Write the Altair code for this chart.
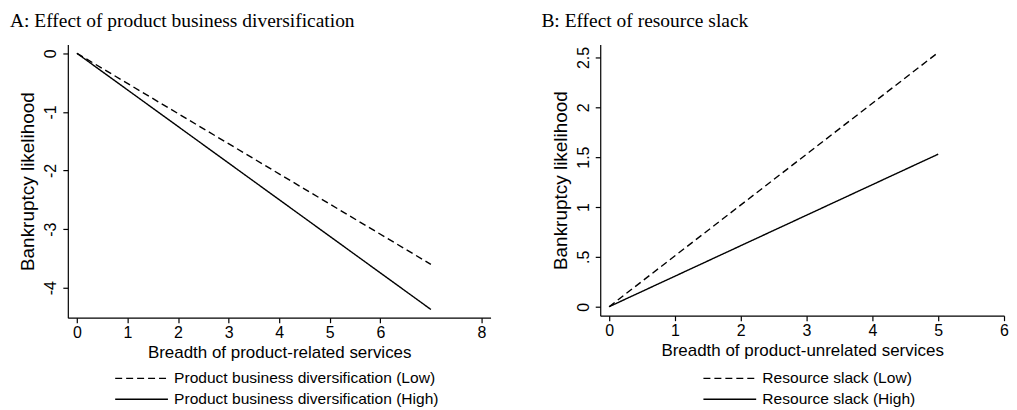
import altair as alt
import pandas as pd

# Panel A data
a_x = [0, 7]
a_low = [0, -3.6]
a_high = [0, -4.37]
a_labels = ["Product business diversification (Low)", "Product business diversification (High)"]

# Panel B data
b_x = [0, 5]
b_low = [0, 2.55]
b_high = [0, 1.53]
b_labels = ["Resource slack (Low)", "Resource slack (High)"]

a_ticks_x = [0, 1, 2, 3, 4, 5, 6, 8]
a_ticks_y = [0, -1, -2, -3, -4]
b_ticks_x = [0, 1, 2, 3, 4, 5, 6]
b_ticks_y = [0, 0.5, 1, 1.5, 2, 2.5]

SANS = "Liberation Sans"
SERIF = "Liberation Serif"


def make_df(xs, low, high, labels):
    rows = []
    for x, v in zip(xs, low):
        rows.append({"x": x, "y": v, "series": labels[0]})
    for x, v in zip(xs, high):
        rows.append({"x": x, "y": v, "series": labels[1]})
    return pd.DataFrame(rows)


def panel(df, labels, title, xtitle, xdom, ydom, xticks, yticks, w, h, lx, ly, dx):
    axis_common = dict(
        grid=False, domainColor="black", tickColor="black", tickSize=5,
        labelFont=SANS, labelFontSize=16, labelColor="black",
        titleFont=SANS, titleFontWeight="normal", titleColor="black",
        domainWidth=1.2, tickWidth=1.2,
    )
    return alt.Chart(df).mark_line(color="black", strokeWidth=1.4, clip=True).encode(
        x=alt.X("x:Q", title=xtitle,
                scale=alt.Scale(domain=xdom, nice=False, zero=False),
                axis=alt.Axis(values=xticks, labelExpr="datum.value + ''",
                              labelPadding=2, titlePadding=4, titleFontSize=17,
                              labelFlush=False, **axis_common)),
        y=alt.Y("y:Q", title="Bankruptcy likelihood",
                scale=alt.Scale(domain=ydom, nice=False, zero=False),
                axis=alt.Axis(values=yticks, labelAngle=-90,
                              labelExpr="replace(datum.value + '', '0.5', '.5')",
                              labelPadding=4, titlePadding=5, titleFontSize=19,
                              labelFlush=False, **axis_common)),
        strokeDash=alt.StrokeDash(
            "series:N",
            scale=alt.Scale(domain=labels, range=[[7, 4], [1, 0]]),
            legend=alt.Legend(
                title=None, orient="none", legendX=lx, legendY=ly, direction="vertical",
                symbolType="M-1,0H9", symbolSize=112, symbolStrokeColor="black",
                symbolFillColor="transparent",
                symbolStrokeWidth=1.3, labelFont=SANS, labelFontSize=15.6,
                labelColor="black", rowPadding=4, labelOffset=46, padding=0,
                labelLimit=500,
            ),
        ),
        order="x:Q",
    ).properties(
        width=w, height=h,
        title=alt.TitleParams(title, anchor="start", frame="group", dx=dx,
                              font=SERIF, fontSize=19.5, fontWeight="normal",
                              color="black", offset=13),
    )


df_a = make_df(a_x, a_low, a_high, a_labels)
df_b = make_df(b_x, b_low, b_high, b_labels)

pa = panel(df_a, a_labels, "A: Effect of product business diversification",
           "Breadth of product-related services", [-0.18, 8.18], [-4.51, 0.15],
           a_ticks_x, a_ticks_y, 424, 274, 45, 327, -58)
pb = panel(df_b, b_labels, "B: Effect of resource slack",
           "Breadth of product-unrelated services", [-0.135, 6.0], [-0.09, 2.63],
           b_ticks_x, b_ticks_y, 405, 272, 101, 327, -59)

chart = alt.hconcat(pa, pb, spacing=51).resolve_scale(
    strokeDash="independent", x="independent", y="independent"
).resolve_legend(strokeDash="independent").configure_view(stroke=None).properties(
    padding={"left": 2, "top": 2, "right": 0, "bottom": 0}
)

chart.save("out.html", embed_options={"renderer": "svg", "actions": False})
